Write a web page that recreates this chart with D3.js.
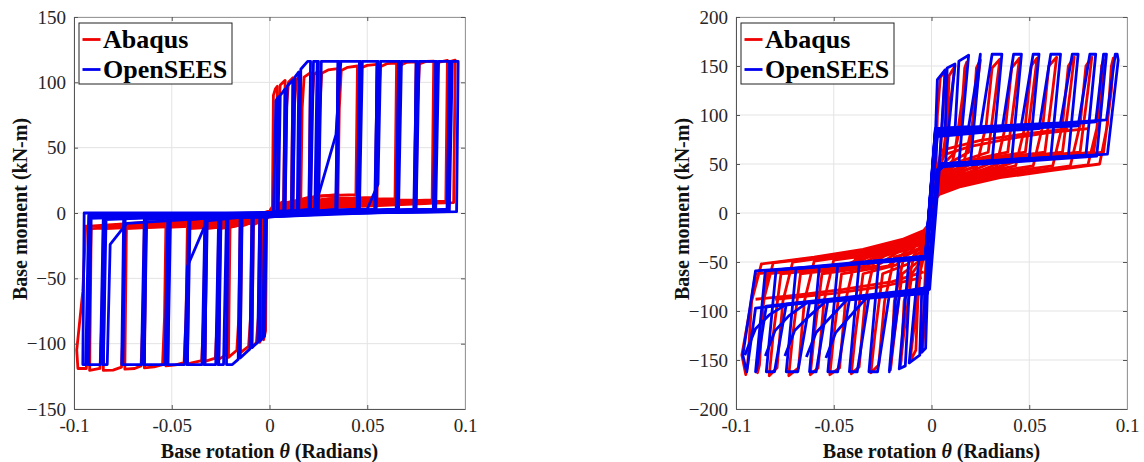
<!DOCTYPE html>
<html>
<head>
<meta charset="utf-8">
<script src="https://cdn.jsdelivr.net/npm/d3@7"></script>
<style>
  body { margin: 0; background: #fff; }
  svg { display: block; }
  text { font-family: "Liberation Serif", "Times New Roman", serif; }
</style>
</head>
<body>
<svg id="chart" width="1144" height="462"></svg>
<script>
// Tick values and labels
var xTicks = [-0.1, -0.05, 0, 0.05, 0.1];
var xTickLabels = ["-0.1", "-0.05", "0", "0.05", "0.1"];
var leftYTicks = [-150, -100, -50, 0, 50, 100, 150];
var rightYTicks = [-200, -150, -100, -50, 0, 50, 100, 150, 200];

var seriesNames = ["Abaqus", "OpenSEES"];

// Left panel, Abaqus (red) - one array of [rotation, moment] per cycle
var leftRed = [
  [[0,1],[0.0015,5],[0.002,90],[0.003,95],[0.004,97],[0.0033,8],[0.001,3],[0,-1],[-0.0015,-5],[-0.002,-90],[-0.003,-97],[-0.0024,-8],[-0.001,-3],[0,1]],
  [[0,1],[0.004,6],[0.0046,80],[0.0055,98],[0.008,101.5],[0.0072,9],[0.003,5],[0,-1],[-0.003,-6],[-0.0036,-80],[-0.0045,-97],[-0.005,-99],[-0.0043,-9],[-0.002,-5],[0,1]],
  [[0,1],[0.008,7],[0.0087,80],[0.0097,100],[0.012,103.5],[0.0112,9],[0.005,6],[0,-1],[-0.005,-7],[-0.0057,-80],[-0.0067,-99],[-0.009,-103],[-0.0082,-9],[-0.004,-6],[0,1]],
  [[0,1],[0.012,8],[0.0127,80],[0.0137,102],[0.016,105.5],[0.0152,10],[0.007,6],[0,-1],[-0.009,-8],[-0.0097,-80],[-0.0107,-102],[-0.015,-107],[-0.0142,-10],[-0.007,-6],[0,1]],
  [[0,2],[0.016,8],[0.0167,80],[0.0177,104],[0.021,107.5],[0.0202,11],[0.008,7],[0,-1],[-0.015,-8],[-0.0157,-80],[-0.0167,-105],[-0.021,-110.5],[-0.0202,-11],[-0.009,-7],[0,1]],
  [[0,2],[0.021,9],[0.0217,80],[0.0227,106],[0.025,108.5],[0.0242,12],[0.01,8],[0,-1],[-0.021,-9],[-0.0217,-80],[-0.0227,-109],[-0.026,-112],[-0.0252,-12],[-0.01,-8],[0,1]],
  [[0,2],[0.025,10],[0.0257,80],[0.0267,107],[0.03,109.5],[0.035,110.5],[0.0342,14],[0.02,12],[0.005,6],[0,-1],[-0.026,-10],[-0.0267,-80],[-0.0277,-111],[-0.033,-113.5],[-0.0322,-12],[-0.015,-9],[0,1]],
  [[0,2],[0.035,12],[0.0357,80],[0.0367,109],[0.04,111.5],[0.045,112.5],[0.0442,14],[0.025,13],[0.005,6],[0,-1],[-0.033,-10],[-0.0337,-80],[-0.0347,-113],[-0.042,-115.5],[-0.0412,-12],[-0.02,-10],[0,1]],
  [[0,2],[0.045,12],[0.0457,80],[0.0467,111],[0.05,113],[0.055,113.8],[0.0542,12],[0.03,11],[0.005,6],[0,-1],[-0.042,-10],[-0.0427,-80],[-0.0437,-114.5],[-0.048,-116.3],[-0.053,-117],[-0.0522,-11],[-0.025,-9],[0,1]],
  [[0,2],[0.055,11],[0.0557,80],[0.0567,112],[0.06,114.3],[0.065,114.8],[0.0642,11],[0.035,10],[0.005,5],[0,-1],[-0.053,-10],[-0.0537,-80],[-0.0547,-116],[-0.059,-117.8],[-0.064,-118.5],[-0.0632,-11],[-0.03,-9],[0,1]],
  [[0,2],[0.065,10],[0.0657,80],[0.0667,113],[0.07,115.2],[0.075,115.6],[0.0742,10],[0.04,9],[0.005,5],[0,-1],[-0.064,-10],[-0.0647,-80],[-0.0657,-117],[-0.069,-119],[-0.074,-119.5],[-0.0732,-12],[-0.035,-9],[0,1]],
  [[0,2],[0.075,9],[0.0757,80],[0.0767,114],[0.08,116],[0.084,116.3],[0.0832,10],[0.045,8],[0.005,4],[0,-1],[-0.074,-10],[-0.0747,-80],[-0.0757,-118],[-0.08,-120.2],[-0.085,-120.5],[-0.0842,-12],[-0.04,-9],[0,1]],
  [[0,2],[0.084,9],[0.0847,80],[0.0857,115],[0.091,116.8],[0.0902,9],[0.05,7],[0.005,4],[0,-1],[-0.085,-10],[-0.0857,-80],[-0.0867,-119],[-0.092,-120.5],[-0.0912,-12],[-0.045,-9],[0,1]],
  [[0,2],[0.091,8],[0.0917,80],[0.0927,116],[0.095,117],[0.0942,8],[0.05,6],[0.005,3],[0,-1],[-0.092,-10],[-0.0927,-80],[-0.0937,-119],[-0.098,-119],[-0.0986,-105],[-0.0955,-60],[-0.094,-10],[-0.045,-8],[0,0]]
];

// Left panel, OpenSEES (blue); later entries are repeat cycles at the same amplitude
var leftBlue = [
  [[0,0],[0.002,1],[0.0033,86],[0.0045,89],[0.0038,1],[0,0],[-0.0015,-1],[-0.0025,-94],[-0.003,-95],[-0.0022,-1],[0,0]],
  [[0,0],[0.0045,1],[0.0055,90],[0.008,95],[0.0072,1],[0,-1],[-0.0025,-1],[-0.0035,-96],[-0.005,-98],[-0.0045,-1],[0,0]],
  [[0,0],[0.008,2],[0.009,97],[0.012,102],[0.0112,1],[0,-1],[-0.005,-2],[-0.006,-99],[-0.009,-103],[-0.0082,-1],[0,0]],
  [[0,0],[0.012,2],[0.013,104],[0.015,108],[0.0142,1],[0,-1],[-0.009,-2],[-0.010,-104],[-0.015,-111],[-0.014,-1],[0,0]],
  [[0,0],[0.015,2],[0.016,110],[0.0195,116],[0.021,116],[0.0202,1],[0,-1],[-0.015,-2],[-0.016,-112],[-0.019,-116],[-0.022,-116],[-0.0212,-1],[0,0]],
  [[0,0],[0.021,2],[0.0225,116],[0.025,116],[0.0242,1],[0,-1],[-0.022,-2],[-0.0235,-116],[-0.026,-116],[-0.0252,-1],[0,0]],
  [[0,0],[0.025,2],[0.0265,116],[0.035,116],[0.0342,1],[0,-1],[-0.026,-2],[-0.0275,-116],[-0.033,-116],[-0.0322,-1],[0,0]],
  [[0,0],[0.023,3],[0.034,60],[0.0365,116],[0.046,116],[0.0452,1],[0,-1],[-0.033,-2],[-0.0345,-116],[-0.042,-116],[-0.0412,-1],[0,0]],
  [[0,0],[0.046,2],[0.0475,116],[0.055,116],[0.0542,1],[0,-1],[-0.032,-6],[-0.042,-41],[-0.0435,-116],[-0.052,-116],[-0.0512,-1],[0,0]],
  [[0,0],[0.05,3],[0.0555,22],[0.0568,116],[0.066,116],[0.0652,1],[0,-1],[-0.052,-2],[-0.0535,-116],[-0.064,-116],[-0.0632,-1],[0,0]],
  [[0,0],[0.066,2],[0.0675,116],[0.075,116],[0.0742,1],[0,-1],[-0.064,-2],[-0.0655,-116],[-0.075,-116],[-0.0742,-1],[0,0]],
  [[0,0],[0.075,2],[0.0765,116],[0.085,116],[0.0842,1],[0,-1],[-0.073,-8],[-0.0815,-24],[-0.083,-116],[-0.085,-116],[-0.0842,-1],[0,0]],
  [[0,0],[0.085,2],[0.0865,116],[0.092,116],[0.0912,1],[0,-1],[-0.085,-2],[-0.0865,-116],[-0.0925,-116],[-0.0917,-1],[0,0]],
  [[0,0],[0.092,2],[0.0935,116],[0.0965,116],[0.0957,1],[0,-1],[-0.0925,-2],[-0.094,-116],[-0.0955,-116],[-0.0948,0],[0,0]],
  [[0,0],[0.0232,3],[0.0244,116],[0.0248,116],[0.0238,3],[0,-2],[-0.0248,-3],[-0.026,-116],[-0.0264,-116],[-0.0256,-4],[0,0]],
  [[0,0],[0.0338,2],[0.0352,116],[0.0356,116],[0.0346,3],[0,-2],[-0.0318,-3],[-0.0332,-116],[-0.0336,-116],[-0.0326,-4],[0,0]],
  [[0,0],[0.0448,3],[0.0462,116],[0.0466,116],[0.0456,2],[0,-3],[-0.0406,-4],[-0.042,-116],[-0.0424,-116],[-0.0414,-5],[0,0]],
  [[0,0],[0.0538,2],[0.0552,116],[0.0556,116],[0.0546,3],[0,-2],[-0.0506,-3],[-0.052,-116],[-0.0524,-116],[-0.0514,-4],[0,0]],
  [[0,0],[0.0648,3],[0.0662,116],[0.0666,116],[0.0656,2],[0,-3],[-0.0628,-4],[-0.0642,-116],[-0.0646,-116],[-0.0636,-5],[0,0]],
  [[0,0],[0.0738,2],[0.0752,116],[0.0756,116],[0.0746,3],[0,-2],[-0.0738,-3],[-0.0752,-116],[-0.0756,-116],[-0.0746,-4],[0,0]],
  [[0,0],[0.0838,3],[0.0852,116],[0.0856,116],[0.0846,2],[0,-3],[-0.0836,-4],[-0.085,-116],[-0.0854,-116],[-0.0844,-5],[0,0]],
  [[0,0],[0.0908,2],[0.0922,116],[0.0926,116],[0.0916,3],[0,-2],[-0.0912,-3],[-0.0926,-116],[-0.093,-116],[-0.092,-4],[0,0]]
];

// Right panel, Abaqus (red)
var rightRed = [
  [[-0.002,-25],[0.002,22],[0.003,100],[0.0045,138],[0.007,146],[0.0058,100],[0.0045,60],[0.003,40],[-0.002,-20],[-0.003,-100],[-0.0045,-138],[-0.005,-142],[-0.004,-100],[-0.003,-55],[-0.002,-25]],
  [[-0.002,-25],[0.002,25],[0.004,44],[0.005,47],[0.008,90],[0.009,140],[0.012,150],[0.010,118],[0.007,62],[0.004,45],[0.002,25],[-0.002,-22],[-0.004,-40],[-0.005,-44],[-0.007,-90],[-0.008,-140],[-0.011,-152],[-0.009,-118],[-0.006,-62],[-0.004,-45],[-0.002,-25]],
  [[-0.002,-24],[0.002,24],[0.004,42],[0.01,46],[0.015,90],[0.017,148],[0.018,154],[0.016,120],[0.012,62],[0.006,50],[0.003,38],[-0.002,-22],[-0.004,-38],[-0.009,-44],[-0.014,-90],[-0.0155,-150],[-0.016,-157],[-0.014,-120],[-0.01,-62],[-0.005,-48],[-0.002,-24]],
  [[-0.002,-24],[0.002,22],[0.004,40],[0.016,47],[0.021,90],[0.023,148],[0.025,156],[0.023,125],[0.019,62],[0.01,52],[0.003,36],[-0.002,-21],[-0.004,-36],[-0.014,-44],[-0.019,-90],[-0.0205,-152],[-0.021,-160],[-0.019,-125],[-0.015,-62],[-0.007,-50],[-0.002,-24]],
  [[-0.002,-23],[0.002,21],[0.004,37],[0.015,43],[0.023,47],[0.028,90],[0.031,148],[0.035,157],[0.033,125],[0.029,62],[0.015,53],[0.003,35],[-0.002,-20],[-0.004,-34],[-0.012,-41],[-0.019,-45],[-0.024,-90],[-0.027,-155],[-0.031,-163],[-0.029,-125],[-0.025,-62],[-0.012,-52],[-0.002,-23]],
  [[-0.002,-23],[0.002,20],[0.004,34],[0.015,40],[0.033,46],[0.038,90],[0.041,148],[0.045,158],[0.043,125],[0.039,62],[0.02,54],[0.003,33],[-0.002,-19],[-0.004,-31],[-0.015,-39],[-0.029,-46],[-0.034,-90],[-0.037,-157],[-0.041,-164],[-0.039,-125],[-0.035,-62],[-0.018,-53],[-0.002,-22]],
  [[-0.002,-22],[0.002,19],[0.004,31],[0.015,38],[0.035,45],[0.043,48],[0.048,90],[0.051,150],[0.054,158],[0.052,125],[0.048,62],[0.025,55],[0.003,32],[-0.002,-18],[-0.004,-29],[-0.015,-37],[-0.035,-46],[-0.039,-47],[-0.044,-90],[-0.047,-158],[-0.052,-165],[-0.05,-125],[-0.046,-62],[-0.022,-54],[-0.002,-21]],
  [[-0.002,-21],[0.002,18],[0.004,28],[0.015,35],[0.035,43],[0.052,48],[0.057,90],[0.06,150],[0.064,159],[0.062,125],[0.058,62],[0.03,55],[0.003,30],[-0.002,-17],[-0.004,-27],[-0.015,-35],[-0.035,-44],[-0.05,-48],[-0.055,-90],[-0.058,-158],[-0.062,-165],[-0.06,-125],[-0.056,-62],[-0.028,-54],[-0.002,-20]],
  [[-0.002,-20],[0.002,17],[0.004,25],[0.015,33],[0.035,41],[0.062,48],[0.067,90],[0.07,150],[0.073,159],[0.071,125],[0.067,62],[0.035,55],[0.003,28],[-0.002,-16],[-0.004,-24],[-0.015,-33],[-0.035,-42],[-0.06,-49],[-0.065,-90],[-0.068,-158],[-0.073,-166],[-0.071,-125],[-0.067,-62],[-0.033,-54],[-0.002,-19]],
  [[-0.002,-19],[0.002,16],[0.004,23],[0.015,31],[0.035,39],[0.06,45],[0.071,48],[0.076,90],[0.079,150],[0.082,159],[0.08,125],[0.076,62],[0.04,55],[0.003,26],[-0.002,-15],[-0.004,-22],[-0.015,-31],[-0.035,-40],[-0.06,-47],[-0.071,-50],[-0.076,-90],[-0.079,-158],[-0.083,-166],[-0.081,-125],[-0.077,-62],[-0.038,-54],[-0.002,-18]],
  [[-0.002,-18],[0.002,15],[0.004,21],[0.015,29],[0.035,37],[0.06,44],[0.08,49],[0.085,90],[0.087,150],[0.088,156],[0.087,125],[0.083,62],[0.045,55],[0.003,25],[-0.002,-14],[-0.004,-20],[-0.015,-29],[-0.035,-38],[-0.06,-46],[-0.081,-51],[-0.086,-90],[-0.088,-155],[-0.089,-163],[-0.088,-125],[-0.084,-62],[-0.042,-54],[-0.002,-17]],
  [[-0.002,-17],[0.002,14],[0.004,19],[0.015,27],[0.035,36],[0.06,43],[0.086,50],[0.09,90],[0.092,150],[0.093,158],[0.092,125],[0.088,62],[0.045,54],[0.003,24],[-0.002,-13],[-0.004,-18],[-0.015,-27],[-0.035,-37],[-0.06,-45],[-0.087,-52],[-0.092,-90],[-0.094,-155],[-0.095,-165],[-0.097,-145],[-0.093,-100],[-0.09,-62],[-0.045,-54],[-0.002,-16]],
  [[0.004,58],[0.02,68],[0.04,76],[0.06,82],[0.08,86]],
  [[0.005,64],[0.025,74],[0.045,80],[0.07,86]],
  [[-0.004,-60],[-0.02,-70],[-0.045,-78],[-0.07,-84],[-0.09,-88]],
  [[-0.005,-66],[-0.025,-75],[-0.05,-82],[-0.08,-88]]
];

// Right panel, OpenSEES (blue); the last entries are short reloading arcs
var rightBlue = [
  [[-0.003,-41],[0.002,78],[0.003,136],[0.007,146],[0.004,48],[0.003,40],[-0.002,-74],[-0.003,-138],[-0.005,-142],[-0.002,-41]],
  [[-0.002,-43],[0.003,84],[0.007,86],[0.008,148],[0.012,152],[0.007,48],[0.004,44],[-0.001,-78],[-0.005,-80],[-0.006,-145],[-0.0114,-153],[-0.0064,-46],[-0.003,-44]],
  [[-0.003,-44],[0.002,80],[0.012,83],[0.014,155],[0.019,161],[0.014,50],[0.005,48],[0.003,42],[-0.002,-76],[-0.0114,-80],[-0.0134,-156],[-0.0165,-159],[-0.0115,-47],[-0.003,-44]],
  [[-0.003,-41],[0.002,86],[0.019,88],[0.025,162],[0.020,52],[0.005,50],[0.003,42],[-0.002,-80],[-0.0165,-84],[-0.0216,-162],[-0.0166,-48],[-0.003,-45]],
  [[-0.003,-45],[0.002,82],[0.025,86],[0.031,162],[0.036,162],[0.031,53],[0.005,49],[0.003,44],[-0.002,-78],[-0.0216,-84],[-0.0276,-162],[-0.032,-162],[-0.027,-50],[-0.003,-45]],
  [[-0.003,-45],[0.003,78],[0.036,84],[0.042,162],[0.046,162],[0.041,54],[0.005,48],[0.003,43],[-0.002,-76],[-0.032,-86],[-0.038,-162],[-0.042,-162],[-0.037,-52],[-0.003,-45]],
  [[-0.003,-43],[0.002,84],[0.046,90],[0.052,162],[0.055,162],[0.05,56],[0.005,50],[0.003,43],[-0.002,-80],[-0.042,-88],[-0.048,-162],[-0.053,-162],[-0.048,-54],[-0.003,-45]],
  [[-0.003,-44],[0.002,80],[0.055,86],[0.061,162],[0.066,162],[0.061,57],[0.005,50],[0.003,43],[-0.002,-78],[-0.053,-89],[-0.059,-162],[-0.0624,-162],[-0.0574,-55],[-0.003,-44]],
  [[-0.003,-45],[0.002,86],[0.066,92],[0.072,162],[0.075,162],[0.07,58],[0.005,48],[0.003,42],[-0.002,-82],[-0.0624,-92],[-0.0684,-162],[-0.0743,-162],[-0.0693,-57],[-0.003,-45]],
  [[-0.003,-42],[0.002,82],[0.075,89],[0.081,162],[0.084,162],[0.079,59],[0.005,50],[0.003,44],[-0.002,-79],[-0.0743,-93],[-0.0803,-162],[-0.0845,-162],[-0.0795,-58],[-0.003,-44]],
  [[-0.003,-44],[0.002,79],[0.084,93],[0.088,162],[0.0895,162],[0.0845,58],[0.005,47],[0.003,41],[-0.002,-77],[-0.0845,-95],[-0.0895,-160],[-0.09,-162],[-0.085,-59],[-0.003,-46]],
  [[-0.003,-46],[0.002,83],[0.0895,95],[0.094,162],[0.095,162],[0.0955,156],[0.09,60],[0.005,49],[0.003,42],[-0.002,-80],[-0.09,-97],[-0.0945,-162],[-0.0946,-162],[-0.0965,-145],[-0.09,-59],[-0.003,-47]],
  [[-0.0955,-145],[-0.09,-118],[-0.083,-104],[-0.074,-93]],
  [[-0.085,-146],[-0.08,-120],[-0.073,-105],[-0.064,-92]],
  [[-0.075,-146],[-0.07,-120],[-0.063,-106],[-0.054,-90]],
  [[-0.064,-147],[-0.059,-122],[-0.052,-107],[-0.043,-88]],
  [[-0.054,-148],[-0.049,-122],[-0.042,-106],[-0.033,-86]]
];

// Panel setup
var svg = d3.select("#chart");
var plotW = 391, plotH = 392, plotTop = 17;

var panels = [
  { left: 74, yDomain: [-150, 150], yTicks: leftYTicks, red: leftRed, blue: leftBlue },
  { left: 736, yDomain: [-200, 200], yTicks: rightYTicks, red: rightRed, blue: rightBlue }
];

panels.forEach(function (p, idx) {
  var g = svg.append("g").attr("transform", "translate(" + p.left + "," + plotTop + ")");

  var x = d3.scaleLinear().domain([-0.1, 0.1]).range([0, plotW]);
  var y = d3.scaleLinear().domain(p.yDomain).range([plotH, 0]);

  // Grid lines
  g.append("g").selectAll("line").data(xTicks).enter().append("line")
    .attr("x1", d => x(d)).attr("x2", d => x(d)).attr("y1", 0).attr("y2", plotH)
    .attr("stroke", "#e3e3e3").attr("stroke-width", 1);
  g.append("g").selectAll("line").data(p.yTicks).enter().append("line")
    .attr("y1", d => y(d)).attr("y2", d => y(d)).attr("x1", 0).attr("x2", plotW)
    .attr("stroke", "#e3e3e3").attr("stroke-width", 1);

  // Clip region for curves
  var clipId = "clip" + idx;
  g.append("clipPath").attr("id", clipId).append("rect")
    .attr("x", 0).attr("y", 0).attr("width", plotW).attr("height", plotH);

  var line = d3.line().x(d => x(d[0])).y(d => y(d[1]));

  var curves = g.append("g").attr("clip-path", "url(#" + clipId + ")");
  curves.append("g").selectAll("path").data(p.red).enter().append("path")
    .attr("d", line).attr("fill", "none").attr("stroke", "#f00000")
    .attr("stroke-width", 2.8).attr("stroke-linejoin", "round");
  curves.append("g").selectAll("path").data(p.blue).enter().append("path")
    .attr("d", line).attr("fill", "none").attr("stroke", "#0000f0")
    .attr("stroke-width", 2.8).attr("stroke-linejoin", "round");

  // Axes (box with inward ticks)
  var axisColor = "#555";
  var xb = g.append("g").attr("transform", "translate(0," + plotH + ")")
    .call(d3.axisBottom(x).tickValues(xTicks).tickSize(-4).tickPadding(10)
      .tickFormat((d, i) => xTickLabels[i]));
  var xt = g.append("g").call(d3.axisTop(x).tickValues(xTicks).tickSize(-4).tickFormat(""));
  var yl = g.append("g")
    .call(d3.axisLeft(y).tickValues(p.yTicks).tickSize(-4).tickPadding(8).tickFormat(d3.format("d")));
  var yr = g.append("g").attr("transform", "translate(" + plotW + ",0)")
    .call(d3.axisRight(y).tickValues(p.yTicks).tickSize(-4).tickFormat(""));

  [xb, xt, yl, yr].forEach(function (a) {
    a.select(".domain").attr("stroke", axisColor);
    a.selectAll(".tick line").attr("stroke", axisColor);
    a.selectAll("text").attr("fill", "#262626").style("font-size", "19px")
      .style("font-family", '"Liberation Serif", "Times New Roman", serif');
  });
  xt.select(".domain").attr("stroke", "#999");
  yr.select(".domain").attr("stroke", "#999");

  // Axis labels
  var xl = g.append("text")
    .attr("x", plotW / 2).attr("y", plotH + 49)
    .attr("text-anchor", "middle").attr("font-weight", "bold").attr("font-size", "20px").attr("fill", "#111");
  xl.append("tspan").text("Base rotation ");
  xl.append("tspan").attr("font-style", "italic").text("θ");
  xl.append("tspan").text(" (Radians)");

  g.append("text")
    .attr("transform", "rotate(-90)")
    .attr("x", -plotH / 2 + 4).attr("y", -47)
    .attr("text-anchor", "middle").attr("font-weight", "bold").attr("font-size", "20px").attr("fill", "#111")
    .text("Base moment (kN-m)");

  // Legend
  var lg = g.append("g").attr("transform", "translate(5,6)");
  lg.append("rect").attr("x", 0).attr("y", 0).attr("width", 153).attr("height", 61)
    .attr("fill", "#fff").attr("stroke", "#222").attr("stroke-width", 1);
  var legendColors = ["#f00000", "#0000f0"];
  seriesNames.forEach(function (name, i) {
    var ly = 16.5 + i * 30;
    lg.append("line").attr("x1", 3.5).attr("x2", 21.5).attr("y1", ly).attr("y2", ly)
      .attr("stroke", legendColors[i]).attr("stroke-width", 2.8);
    lg.append("text").attr("x", 24).attr("y", ly + 8.5)
      .attr("font-weight", "bold").attr("font-size", "26px").attr("fill", "#000")
      .text(name);
  });
});
</script>
</body>
</html>
